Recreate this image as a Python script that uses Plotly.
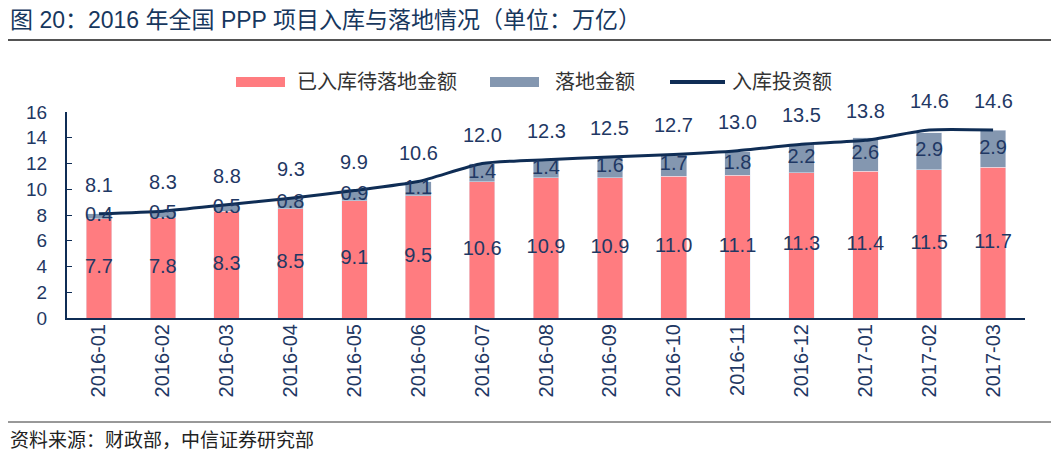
import plotly.graph_objects as go

categories = ["2016-01", "2016-02", "2016-03", "2016-04", "2016-05", "2016-06", "2016-07",
              "2016-08", "2016-09", "2016-10", "2016-11", "2016-12", "2017-01", "2017-02", "2017-03"]
pending = [7.7, 7.8, 8.3, 8.5, 9.1, 9.5, 10.6, 10.9, 10.9, 11.0, 11.1, 11.3, 11.4, 11.5, 11.7]
landed = [0.4, 0.5, 0.5, 0.8, 0.9, 1.1, 1.4, 1.4, 1.6, 1.7, 1.8, 2.2, 2.6, 2.9, 2.9]
total = [8.1, 8.3, 8.8, 9.3, 9.9, 10.6, 12.0, 12.3, 12.5, 12.7, 13.0, 13.5, 13.8, 14.6, 14.6]
y_ticks = [0, 2, 4, 6, 8, 10, 12, 14, 16]
series_names = ["已入库待落地金额", "落地金额", "入库投资额"]

PINK = "#FF7C80"
GREY = "#8497B0"
NAVY = "#0F2D55"
TXT = "#1F3864"
FONT = "Liberation Sans, Arial, Noto Sans CJK SC, sans-serif"

# plot area: 958 x 206 px
PW, PH = 958.0, 206.0


def px(x):  # screen x -> paper
    return (x - 67) / PW


def py(y):  # screen y -> paper
    return (318 - y) / PH


fig = go.Figure()
fig.add_trace(go.Bar(x=categories, y=pending, name=series_names[0], marker_color=PINK,
                     width=0.4, hoverinfo="skip", showlegend=False))
fig.add_trace(go.Bar(x=categories, y=landed, name=series_names[1], marker_color=GREY,
                     width=0.4, hoverinfo="skip", showlegend=False))
fig.add_trace(go.Scatter(x=categories, y=total, name=series_names[2], mode="lines",
                         line=dict(color=NAVY, width=3, shape="spline", smoothing=0.6),
                         hoverinfo="skip", showlegend=False))

# labels inside bars
fig.add_trace(go.Scatter(x=categories, y=[p / 2 for p in pending], mode="text",
                         text=[f"{v:.1f}" for v in pending], textposition="middle center",
                         textfont=dict(size=20, color=TXT, family=FONT),
                         showlegend=False, hoverinfo="skip"))
fig.add_trace(go.Scatter(x=categories, y=[p + l / 2 for p, l in zip(pending, landed)], mode="text",
                         text=[f"{v:.1f}" for v in landed], textposition="middle center",
                         textfont=dict(size=20, color=TXT, family=FONT),
                         showlegend=False, hoverinfo="skip"))

for c, t in zip(categories, total):
    fig.add_annotation(x=c, y=t, text=f"{t:.1f}", showarrow=False, yshift=29,
                       font=dict(size=20, color=TXT, family=FONT))

# legend (drawn)
legend_items = [
    (236, 285, 295, PINK, "rect"),
    (490, 539, 553, GREY, "rect"),
    (670, 725, 730, NAVY, "line"),
]
for (x0, x1, tx, col, kind), name in zip(legend_items, series_names):
    if kind == "rect":
        fig.add_shape(type="rect", xref="paper", yref="paper", x0=px(x0), x1=px(x1),
                      y0=py(87), y1=py(77), fillcolor=col, line=dict(width=0))
    else:
        fig.add_shape(type="line", xref="paper", yref="paper", x0=px(x0), x1=px(x1),
                      y0=py(82), y1=py(82), line=dict(color=col, width=4))
    fig.add_annotation(xref="paper", yref="paper", x=px(tx), y=py(82), xanchor="left",
                       yanchor="middle", showarrow=False, text=name,
                       font=dict(size=20, color="#333333", family=FONT))

# title, rules, source
fig.add_annotation(xref="paper", yref="paper", x=px(8), y=py(20), xanchor="left",
                   yanchor="middle", showarrow=False,
                   text="图 20：2016 年全国 PPP 项目入库与落地情况（单位：万亿）",
                   font=dict(size=23, color="#17375E", family=FONT))
fig.add_annotation(xref="paper", yref="paper", x=px(8), y=py(440), xanchor="left",
                   yanchor="middle", showarrow=False,
                   text="资料来源：财政部，中信证券研究部",
                   font=dict(size=19, color="#222222", family=FONT))
fig.add_shape(type="line", xref="paper", yref="paper", x0=px(8), x1=px(1059),
              y0=py(40), y1=py(40), line=dict(color="#1a1a1a", width=1.5))
fig.add_shape(type="line", xref="paper", yref="paper", x0=px(8), x1=px(1059),
              y0=py(422), y1=py(422), line=dict(color="#333333", width=1))

fig.update_layout(
    width=1051, height=448,
    margin=dict(l=59, r=34, t=104, b=138),
    barmode="stack",
    plot_bgcolor="white", paper_bgcolor="white",
    font=dict(family=FONT, color=TXT),
    showlegend=False,
)
fig.update_xaxes(type="category", range=[-0.5, 14.5], tickangle=-90, showline=True,
                 linecolor=NAVY, linewidth=2, ticks="", showgrid=False,
                 ticklabelstandoff=-4,
                 tickfont=dict(size=20, color=TXT, family=FONT))
fig.update_yaxes(range=[0, 16], tickvals=y_ticks, showline=True, linecolor=NAVY, linewidth=2,
                 ticks="inside", ticklen=5, tickcolor=NAVY, showgrid=False, zeroline=False,
                 ticklabelstandoff=14, tickfont=dict(size=19, color=TXT, family=FONT))

fig.write_html("out.html")
